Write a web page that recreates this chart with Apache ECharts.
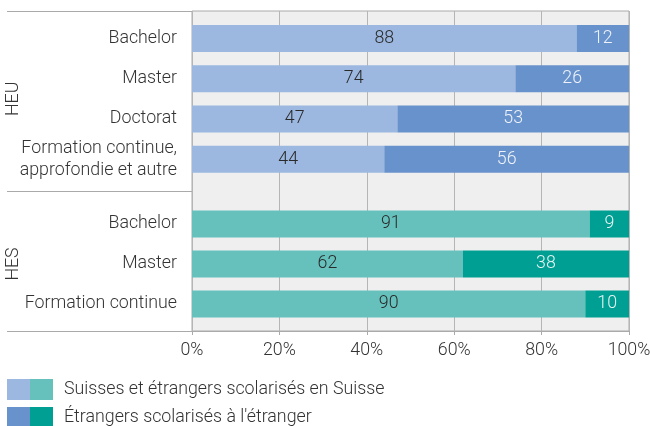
<!DOCTYPE html>
<html>
<head>
<meta charset="utf-8">
<script src="https://cdn.jsdelivr.net/npm/echarts@6/dist/echarts.min.js"></script>
<style>
  html, body { margin: 0; padding: 0; background: #fff; }
  #chart { width: 650px; height: 426px; }
</style>
</head>
<body>
<div id="chart"></div>
<script>
// data
const heuCategories = ["Bachelor", "Master", "Doctorat", "Formation continue,\napprofondie et autre"];
const heuSuisse = [88, 74, 47, 44];
const heuEtranger = [12, 26, 53, 56];
const hesCategories = ["Bachelor", "Master", "Formation continue"];
const hesSuisse = [91, 62, 90];
const hesEtranger = [9, 38, 10];
const groupNames = ["HEU", "HES"];
const legendNames = ["Suisses et étrangers scolarisés en Suisse", "Étrangers scolarisés à l'étranger"];

const font = "Roboto";
const fontSize = 17.8;
const textColor = "#333";
const lineColor = "#aaaaaa";

const chart = echarts.init(document.getElementById("chart"));

function barLabel(color) {
  return {
    show: true,
    position: "inside",
    fontFamily: font,
    fontWeight: 300,
    fontSize: fontSize,
    color: color,
  };
}

function catAxis(gridIndex, data, name) {
  return {
    type: "category",
    gridIndex: gridIndex,
    data: data,
    inverse: true,
    axisLine: { show: false },
    axisTick: { show: false },
    axisLabel: {
      margin: 15,
      fontFamily: font,
      fontWeight: 300,
      fontSize: fontSize,
      lineHeight: 22,
      color: textColor,
    },
    name: name,
    nameLocation: "middle",
    nameRotate: 90,
    nameGap: 169,
    nameMoveOverlap: false,
    nameTextStyle: { fontFamily: font, fontWeight: 300, fontSize: fontSize, color: textColor },
  };
}

function hiddenX(gridIndex) {
  return { type: "value", gridIndex: gridIndex, min: 0, max: 100, show: false };
}

function legendBox(left, data, extra) {
  return Object.assign({
    left: left,
    top: 379,
    height: 60,
    padding: 0,
    orient: "vertical",
    icon: "rect",
    itemWidth: 23,
    itemHeight: 21,
    itemGap: 7,
    selectedMode: false,
    data: data,
  }, extra);
}

const options = {
  animation: false,
  grid: [
    // background frame with the percent axis
    { left: 192, right: 21, top: 11, height: 320, outerBoundsMode: "none", show: true, backgroundColor: "#efefef", borderColor: lineColor, borderWidth: 1 },
    { left: 192, right: 21, top: 18.3, height: 161, outerBoundsMode: "none" },
    { left: 192, right: 21, top: 204, height: 120, outerBoundsMode: "none" },
  ],
  xAxis: [
    {
      type: "value",
      gridIndex: 0,
      min: 0,
      max: 100,
      interval: 20,
      axisLine: { show: true, lineStyle: { color: lineColor } },
      axisTick: { show: true, length: 4, lineStyle: { color: lineColor } },
      splitLine: { show: true, lineStyle: { color: "#b5b5b5", width: 1 } },
      axisLabel: { formatter: "{value}%", margin: 11, fontFamily: font, fontWeight: 300, fontSize: fontSize, color: textColor },
    },
    hiddenX(1),
    hiddenX(2),
  ],
  yAxis: [
    { type: "category", gridIndex: 0, data: [""], show: false },
    catAxis(1, heuCategories, groupNames[0]),
    catAxis(2, hesCategories, groupNames[1]),
  ],
  legend: [
    legendBox(7, ["HEU " + legendNames[0], "HEU " + legendNames[1]], { formatter: () => "" }),
    legendBox(30, legendNames, {
      textStyle: { fontFamily: font, fontWeight: 300, fontSize: fontSize, color: textColor, padding: [0, 0, 0, 6] },
    }),
  ],
  graphic: [
    { type: "line", shape: { x1: 7, y1: 11.5, x2: 192, y2: 11.5 }, style: { stroke: lineColor, lineWidth: 1 } },
    { type: "line", shape: { x1: 7, y1: 191.5, x2: 192, y2: 191.5 }, style: { stroke: lineColor, lineWidth: 1 } },
    { type: "line", shape: { x1: 7, y1: 331.5, x2: 192, y2: 331.5 }, style: { stroke: lineColor, lineWidth: 1 } },
  ],
  series: [
    {
      name: "HEU " + legendNames[0],
      type: "bar",
      stack: "heu",
      xAxisIndex: 1,
      yAxisIndex: 1,
      barWidth: 27,
      itemStyle: { color: "#9cb8e0" },
      label: barLabel("#2a2a2a"),
      data: heuSuisse,
    },
    {
      name: "HEU " + legendNames[1],
      type: "bar",
      stack: "heu",
      xAxisIndex: 1,
      yAxisIndex: 1,
      barWidth: 27,
      itemStyle: { color: "#6892cc" },
      label: barLabel("#eef2fa"),
      data: heuEtranger,
    },
    {
      name: legendNames[0],
      type: "bar",
      stack: "hes",
      xAxisIndex: 2,
      yAxisIndex: 2,
      barWidth: 27,
      itemStyle: { color: "#66c1bd" },
      label: barLabel("#2a2a2a"),
      data: hesSuisse,
    },
    {
      name: legendNames[1],
      type: "bar",
      stack: "hes",
      xAxisIndex: 2,
      yAxisIndex: 2,
      barWidth: 27,
      itemStyle: { color: "#009f93" },
      label: barLabel("#e6f4f2"),
      data: hesEtranger,
    },
  ],
};
chart.setOption(options);
</script>
</body>
</html>
